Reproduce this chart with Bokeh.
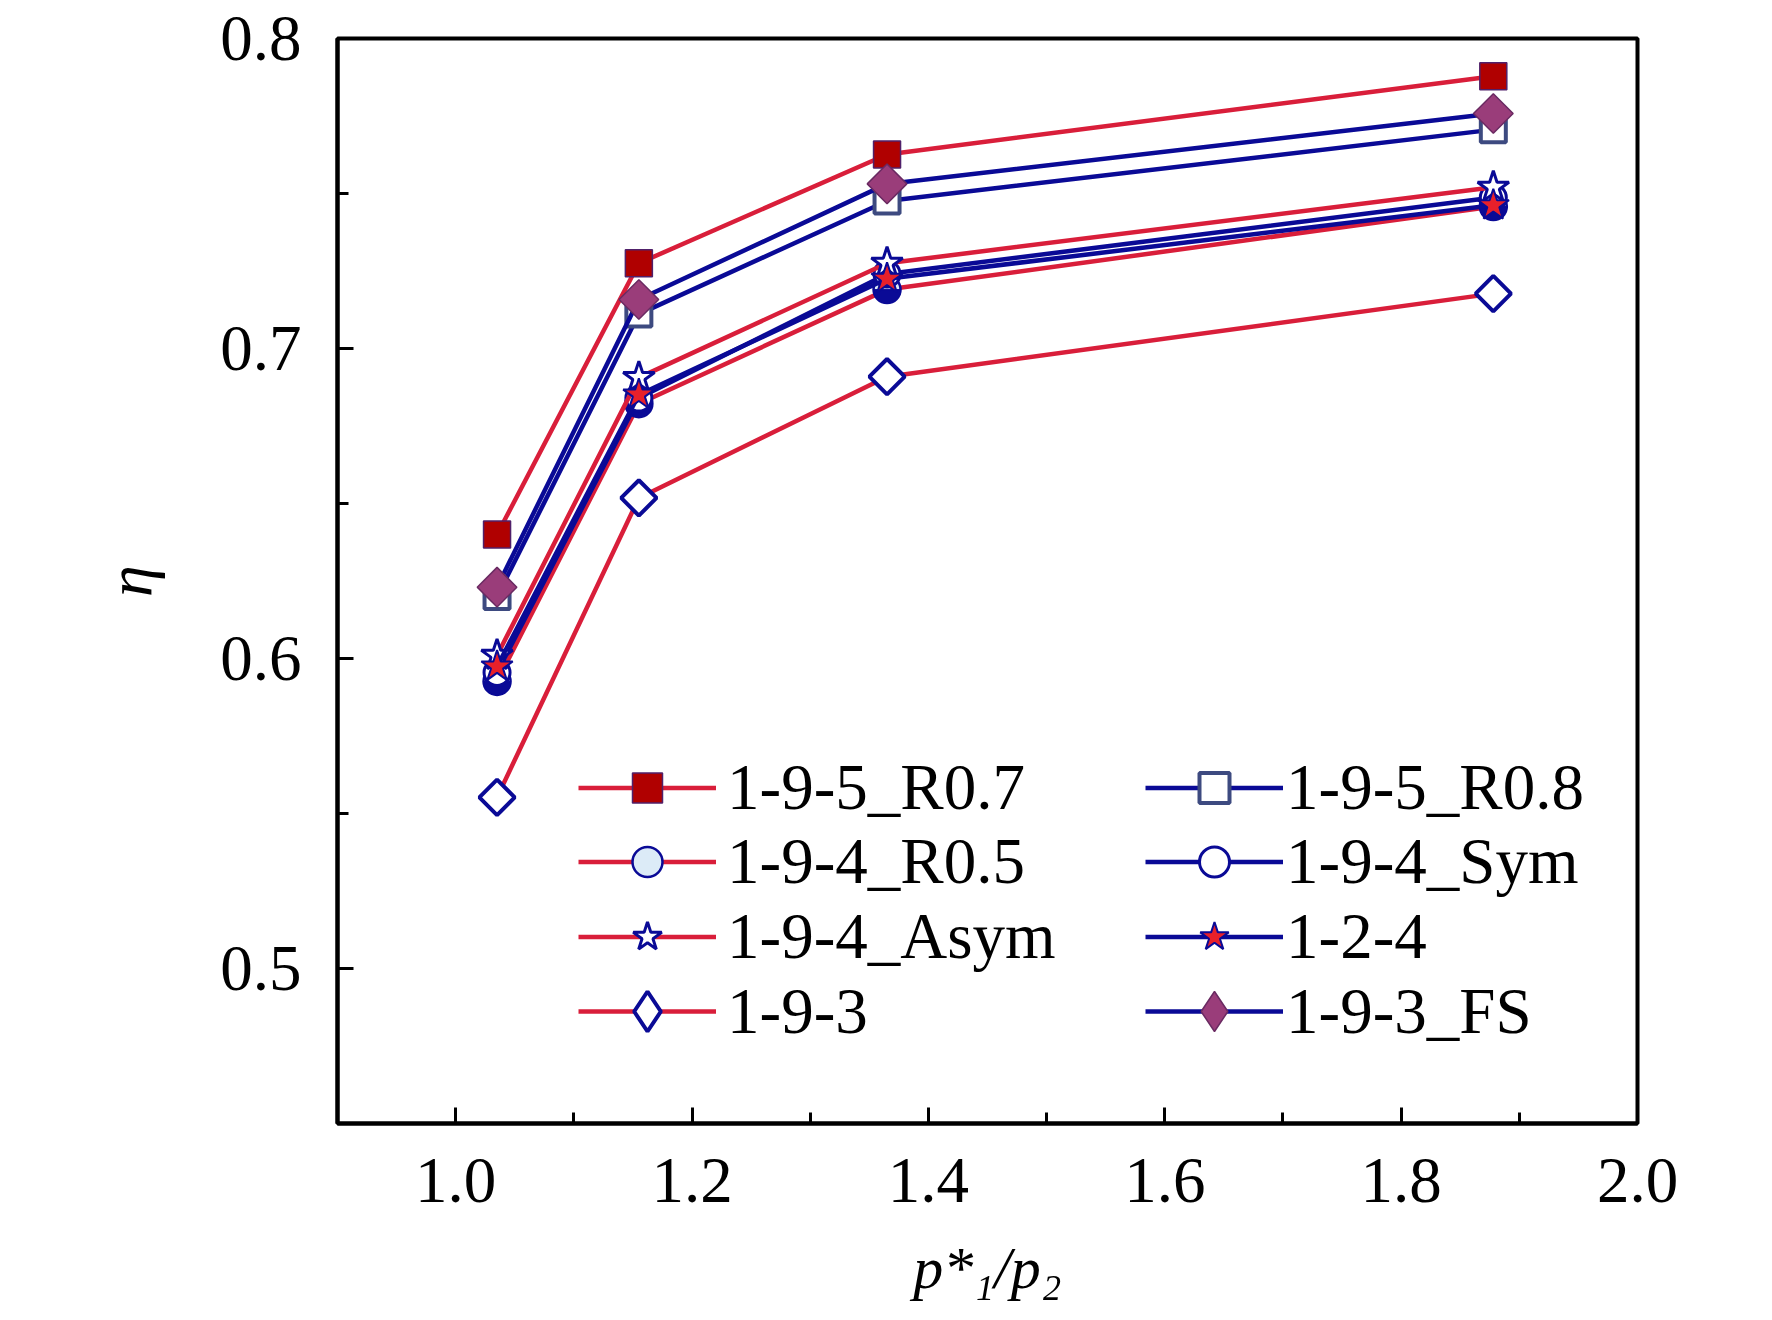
import numpy as np
from bokeh.plotting import figure
from bokeh.models import Range1d, FixedTicker, Legend, LegendItem, NumeralTickFormatter
from bokeh.embed import file_html
from bokeh.resources import INLINE

# ---------------- data ----------------
pressure_ratio = [1.035, 1.155, 1.365, 1.878]

eta_195_r07 = [0.6400, 0.7275, 0.7626, 0.7878]
eta_195_r08 = [0.6200, 0.7111, 0.7476, 0.7706]
eta_194_r05 = [0.5926, 0.6822, 0.7190, 0.7458]
eta_194_sym = [0.5955, 0.6840, 0.7240, 0.7487]
eta_194_asym = [0.6010, 0.6906, 0.7275, 0.7520]
eta_124 = [0.5974, 0.6851, 0.7225, 0.7462]
eta_193 = [0.5552, 0.6518, 0.6909, 0.7177]
eta_193_fs = [0.6230, 0.7158, 0.7531, 0.7758]

series_labels = ["1-9-5_R0.7", "1-9-5_R0.8", "1-9-4_R0.5", "1-9-4_Sym",
                 "1-9-4_Asym", "1-2-4", "1-9-3", "1-9-3_FS"]

x_ticks = [1.0, 1.2, 1.4, 1.6, 1.8, 2.0]
x_minor = [1.1, 1.3, 1.5, 1.7, 1.9]
y_ticks = [0.5, 0.6, 0.7, 0.8]
y_minor = [0.55, 0.65, 0.75]

x_title = "p*\u2081/p\u2082"
y_title = "\u03b7"

# ---------------- styles ----------------
RED = "#D91E3A"
BLUE = "#0A0A96"
FONT = "Liberation Serif"

p = figure(frame_width=1300, frame_height=1085,
           x_range=Range1d(0.9, 2.0), y_range=Range1d(0.45, 0.8),
           output_backend="svg", toolbar_location=None,
           min_border_left=337, min_border_top=38, min_border_right=110,
           min_border_bottom=190)
p.grid.visible = False
p.outline_line_color = "black"
p.outline_line_width = 4
p.outline_line_alpha = 1.0
p.background_fill_color = "white"
p.border_fill_color = "white"

for ax in p.axis:
    ax.axis_line_width = 4
    ax.axis_line_color = "black"
    ax.major_tick_line_width = 3
    ax.minor_tick_line_width = 3
    ax.major_tick_line_color = "black"
    ax.minor_tick_line_color = "black"
    ax.major_tick_in = 16
    ax.major_tick_out = 0
    ax.minor_tick_in = 11
    ax.minor_tick_out = 0
    ax.major_label_text_font = FONT
    ax.major_label_text_font_size = "65px"
    ax.major_label_text_color = "black"
    ax.formatter = NumeralTickFormatter(format="0.0")
    ax.axis_label_text_font = FONT
    ax.axis_label_text_font_style = "italic"
    ax.axis_label_text_color = "black"

p.xaxis.ticker = FixedTicker(ticks=x_ticks, minor_ticks=x_minor)
p.yaxis.ticker = FixedTicker(ticks=y_ticks, minor_ticks=y_minor)
p.xaxis.major_label_standoff = 35
p.yaxis.major_label_standoff = 36

p.yaxis.axis_label = y_title
p.yaxis.axis_label_text_font_size = "64px"
p.yaxis.axis_label_standoff = 52

p.xaxis.axis_label = x_title
p.xaxis.axis_label_text_font_size = "60px"
p.xaxis.axis_label_standoff = 30

LW = 4.5
DIAMOND_ANGLE = np.pi / 4

# series drawing
r_l1 = p.line(pressure_ratio, eta_195_r07, line_color=RED, line_width=LW)
r_m1 = p.scatter(pressure_ratio, eta_195_r07, marker="square", size=27,
                 fill_color="#B00000", line_color="#50206A", line_width=1.5)

r_l2 = p.line(pressure_ratio, eta_195_r08, line_color=BLUE, line_width=LW)
r_m2 = p.scatter(pressure_ratio, eta_195_r08, marker="square", size=25,
                 fill_color="white", line_color="#3D4A80", line_width=4)

r_l3 = p.line(pressure_ratio, eta_194_r05, line_color=RED, line_width=LW)
r_m3 = p.scatter(pressure_ratio, eta_194_r05, marker="circle", size=27,
                 fill_color="#DCEBF7", line_color=BLUE, line_width=2.5)
r_w3 = p.wedge(pressure_ratio, eta_194_r05, radius=13.5, radius_units="screen",
               start_angle=np.pi, end_angle=2 * np.pi,
               fill_color=BLUE, line_color=BLUE, line_width=1)

r_l4 = p.line(pressure_ratio, eta_194_sym, line_color=BLUE, line_width=LW)
r_m4 = p.scatter(pressure_ratio, eta_194_sym, marker="circle", size=26,
                 fill_color="white", line_color=BLUE, line_width=3)

r_l5 = p.line(pressure_ratio, eta_194_asym, line_color=RED, line_width=LW)
r_m5 = p.scatter(pressure_ratio, eta_194_asym, marker="star", size=33,
                 fill_color="white", line_color=BLUE, line_width=3)

r_l6 = p.line(pressure_ratio, eta_124, line_color=BLUE, line_width=LW)
r_m6 = p.scatter(pressure_ratio, eta_124, marker="star", size=33,
                 fill_color="#E8202A", line_color=BLUE, line_width=2)

r_l7 = p.line(pressure_ratio, eta_193, line_color=RED, line_width=LW)
r_m7 = p.scatter(pressure_ratio, eta_193, marker="square", angle=DIAMOND_ANGLE,
                 size=25, fill_color="white", line_color=BLUE, line_width=4)
r_g7 = p.scatter(pressure_ratio, eta_193, marker="diamond", size=40,
                 fill_color="white", line_color=BLUE, line_width=4, visible=False)

r_l8 = p.line(pressure_ratio, eta_193_fs, line_color=BLUE, line_width=LW)
r_m8 = p.scatter(pressure_ratio, eta_193_fs, marker="square", angle=DIAMOND_ANGLE,
                 size=28, fill_color="#9A3D7A", line_color="#6A2A62", line_width=1.5)
r_g8 = p.scatter(pressure_ratio, eta_193_fs, marker="diamond", size=40,
                 fill_color="#9A3D7A", line_color="#6A2A62", line_width=1.5, visible=False)

legend_renderers = [
    [r_l1, r_m1], [r_l2, r_m2], [r_l3, r_m3], [r_l4, r_m4],
    [r_l5, r_m5], [r_l6, r_m6], [r_l7, r_g7], [r_l8, r_g8],
]

col_x = [241, 808]
col_glyph_w = [138, 138]
col_standoff = [11, 3]
row_center = [336, 262, 187, 112]


def add_item(idx):
    col = idx % 2
    row = idx // 2
    gh = 100 if row == 3 else 75
    leg = Legend(items=[LegendItem(label=series_labels[idx], renderers=legend_renderers[idx])],
                 location=(col_x[col], row_center[row] - gh / 2),
                 glyph_width=col_glyph_w[col], glyph_height=gh, label_height=gh,
                 label_standoff=col_standoff[col], padding=0, margin=0, spacing=0,
                 border_line_alpha=0, background_fill_alpha=0,
                 label_text_font=FONT, label_text_font_size="65px",
                 label_text_color="black")
    p.add_layout(leg)


for i in range(len(series_labels)):
    add_item(i)

open("out.html", "w").write(file_html(p, INLINE))
